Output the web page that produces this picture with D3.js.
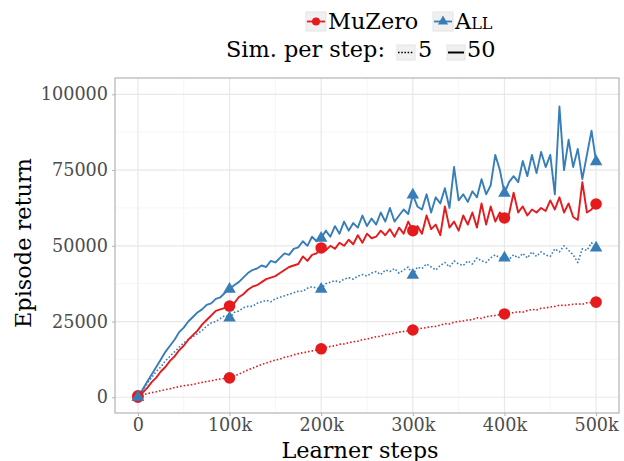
<!DOCTYPE html>
<html>
<head>
<meta charset="utf-8">
<script src="https://cdn.jsdelivr.net/npm/d3@7"></script>
<style>
  body { margin: 0; background: #fff; }
  svg text { font-family: "DejaVu Serif", serif; }
</style>
</head>
<body>
<div id="chart"></div>
<script>
// learner steps, sampled every 5k
const steps = d3.range(0, 500001, 5000);

// episode return per series
const allSim50 = [
  0, 2500, 5000, 7500, 10000, 12500, 15000, 17000, 19000, 21500,
  23000, 25000, 26500, 28000, 29000, 30500, 31000, 32500, 33000, 34500,
  35700, 37000, 38000, 39500, 41000, 42000, 42500, 43500, 43000, 45000,
  44500, 46000, 47500, 47000, 49000, 49500, 51500, 50000, 53000, 51500,
  52500, 55000, 53000, 56500, 54000, 58000, 55000, 57500, 56000, 60000,
  56500, 59000, 57000, 61000, 58000, 62500, 58000, 60000, 62000, 60500,
  66800, 63000, 62000, 67000, 61000, 66000, 64000, 69000, 62500, 76000,
  65000, 67000, 64500, 68000, 66000, 72000, 67000, 70000, 80000, 75000,
  67400, 71000, 73000, 71000, 78000, 73000, 80000, 74000, 81000, 76000,
  80000, 67000, 96000, 75000, 85000, 76000, 82000, 72000, 80000, 88000,
  77800
];
const muzeroSim50 = [
  0, 1500, 3000, 5000, 6500, 8500, 10000, 12000, 13500, 15500,
  17000, 19000, 20500, 22000, 24000, 25500, 27000, 28500, 29000, 29500,
  30100, 31000, 33000, 34000, 35500, 36500, 37000, 38000, 39000, 39500,
  40000, 41000, 42000, 43000, 43500, 44000, 46500, 45000, 47000, 47500,
  49300, 48500, 50000, 49000, 51000, 50000, 52000, 50500, 53500, 51000,
  54000, 52500, 53000, 55000, 53500, 55500, 53000, 56000, 54000, 58000,
  55000, 56500, 54000, 60000, 55500, 57000, 53500, 63000, 56000, 58000,
  55000, 60000, 57000, 61000, 56000, 64000, 57000, 63000, 58000, 61000,
  59200, 60500, 67500, 61000, 63000, 60000, 62000, 61000, 62500, 61500,
  65000, 62000, 66000, 61000, 64000, 59500, 58500, 71000, 61000, 62000,
  63800
];
const allSim5 = [
  0, 2000, 4500, 6500, 8500, 10000, 12000, 13500, 15000, 16500,
  18000, 19000, 20000, 21000, 22000, 23500, 24500, 25000, 26000, 27000,
  26200, 28000, 28500, 29500, 30000, 30000, 31000, 31500, 32000, 31500,
  32500, 33000, 33500, 34000, 34500, 35000, 35000, 36000, 36500, 36000,
  35700, 37500, 38000, 38500, 38000, 39000, 39500, 39000, 40000, 40500,
  40000, 41000, 41500, 40500, 42000, 41500, 42500, 41000, 42000, 43000,
  40300, 43000, 42500, 44000, 43000, 42000, 43500, 44500, 43000, 45000,
  44000, 43500, 45000, 44000, 46000, 45000, 44500, 46000, 47000, 46000,
  46000, 45500, 47000, 46000, 47500, 46000, 48000, 46500, 48000, 47000,
  46500, 49000, 48000, 50000, 48500, 47000, 44500, 49000, 48500, 51000,
  49300
];
const muzeroSim5 = [
  500, 800, 1200, 1500, 1800, 2200, 2500, 2800, 3200, 3500,
  3800, 4000, 4200, 4600, 4900, 5200, 5400, 5800, 6000, 6200,
  6400, 7000, 7600, 8300, 9000, 9600, 10200, 10800, 11300, 11800,
  12300, 12600, 13200, 13500, 14000, 14400, 14700, 15000, 15300, 15600,
  16000, 16400, 16800, 17000, 17500, 17600, 18000, 18300, 18500, 19000,
  19200, 19600, 20000, 20100, 20700, 20800, 21200, 21500, 21700, 22000,
  22200, 22500, 22800, 23000, 23300, 23400, 23800, 24300, 24200, 24800,
  25000, 25200, 25500, 25600, 26200, 26000, 26600, 26800, 27000, 27300,
  27500, 27600, 28000, 28200, 28100, 28600, 29000, 28800, 29400, 29500,
  29800, 30000, 30400, 30300, 30500, 30700, 30800, 30700, 31200, 31300,
  31400
];

const methods = ["MuZero", "All"];
const simCounts = ["5", "50"];
const xTicks = [0, 100000, 200000, 300000, 400000, 500000];
const xTickLabels = ["0", "100k", "200k", "300k", "400k", "500k"];
const yTicks = [0, 25000, 50000, 75000, 100000];
const markerSteps = [0, 100000, 200000, 300000, 400000, 500000];

const colors = {MuZero: "#e41a1c", All: "#377eb8"};

const series = [
  {method: "MuZero", sims: "5", values: muzeroSim5},
  {method: "All", sims: "5", values: allSim5},
  {method: "MuZero", sims: "50", values: muzeroSim50},
  {method: "All", sims: "50", values: allSim50}
];

const width = 624, height = 461;
const margin = {top: 78, right: 5, bottom: 48, left: 115};

const svg = d3.select("#chart").append("svg")
  .attr("width", width)
  .attr("height", height);

const x = d3.scaleLinear().domain([-25000, 525000])
  .range([margin.left, width - margin.right]);
const y = d3.scaleLinear().domain([-5200, 105400])
  .range([height - margin.bottom, margin.top]);

// grid
const grid = svg.append("g");
const xMinor = [50000, 150000, 250000, 350000, 450000];
const yMinor = [12500, 37500, 62500, 87500];
grid.selectAll(".xminor").data(xMinor).enter().append("line")
  .attr("x1", d => x(d)).attr("x2", d => x(d))
  .attr("y1", margin.top).attr("y2", height - margin.bottom)
  .attr("stroke", "#f4f4f4").attr("stroke-width", 0.8);
grid.selectAll(".yminor").data(yMinor).enter().append("line")
  .attr("y1", d => y(d)).attr("y2", d => y(d))
  .attr("x1", margin.left).attr("x2", width - margin.right)
  .attr("stroke", "#f4f4f4").attr("stroke-width", 0.8);
grid.selectAll(".xmajor").data(xTicks).enter().append("line")
  .attr("x1", d => x(d)).attr("x2", d => x(d))
  .attr("y1", margin.top).attr("y2", height - margin.bottom)
  .attr("stroke", "#e8e8e8").attr("stroke-width", 1.2);
grid.selectAll(".ymajor").data(yTicks).enter().append("line")
  .attr("y1", d => y(d)).attr("y2", d => y(d))
  .attr("x1", margin.left).attr("x2", width - margin.right)
  .attr("stroke", "#e8e8e8").attr("stroke-width", 1.2);

// axes
const xAxis = svg.append("g")
  .attr("transform", `translate(0,${height - margin.bottom})`)
  .call(d3.axisBottom(x).tickValues(xTicks)
    .tickFormat((d, i) => xTickLabels[i]).tickSize(3).tickPadding(3));
const yAxis = svg.append("g")
  .attr("transform", `translate(${margin.left},0)`)
  .call(d3.axisLeft(y).tickValues(yTicks).tickFormat(d3.format("d"))
    .tickSize(3).tickPadding(4));
[xAxis, yAxis].forEach(a => {
  a.select(".domain").remove();
  a.selectAll(".tick line").attr("stroke", "#b3b3b3");
  a.selectAll(".tick text").attr("fill", "#4d4d4d")
    .style("font-family", "'DejaVu Serif', serif").style("font-size", "17.6px");
});

// panel border
svg.append("rect")
  .attr("x", margin.left).attr("y", margin.top)
  .attr("width", width - margin.left - margin.right)
  .attr("height", height - margin.top - margin.bottom)
  .attr("fill", "none").attr("stroke", "#b3b3b3").attr("stroke-width", 1.2);

// lines
const line = d3.line().x((d, i) => x(steps[i])).y(d => y(d));
svg.selectAll(".series").data(series).enter().append("path")
  .attr("d", d => line(d.values))
  .attr("fill", "none")
  .attr("stroke", d => colors[d.method])
  .attr("stroke-width", d => d.sims === "5" ? 1.6 : 1.9)
  .attr("stroke-dasharray", d => d.sims === "5" ? "1.6,2" : null)
  .attr("stroke-linejoin", "round");

// markers
const circle = d3.symbol().type(d3.symbolCircle).size(105);
const triangle = d3.symbol().type(d3.symbolTriangle).size(68);
series.forEach(s => {
  const pts = markerSteps.map(st => ({step: st, value: s.values[steps.indexOf(st)]}));
  svg.append("g").selectAll("path").data(pts).enter().append("path")
    .attr("transform", d => `translate(${x(d.step)},${y(d.value)})`)
    .attr("d", s.method === "MuZero" ? circle() : triangle())
    .attr("fill", colors[s.method]);
});

// axis titles
svg.append("text")
  .attr("x", 360).attr("y", 457.5)
  .attr("text-anchor", "middle")
  .style("font-size", "22.4px")
  .text("Learner steps");
svg.append("text")
  .attr("transform", "translate(31,243) rotate(-90)")
  .attr("text-anchor", "middle")
  .style("font-size", "22.4px")
  .text("Episode return");

// legend
const legend = svg.append("g");
const methodKeys = [
  {name: methods[0], kx: 306, tx: 328},
  {name: methods[1], kx: 433, tx: 455}
];
methodKeys.forEach(k => {
  legend.append("rect").attr("x", k.kx).attr("y", 12).attr("width", 20).attr("height", 19)
    .attr("fill", "#f0f0f0").attr("stroke", "#e3e3e3");
  legend.append("line").attr("x1", k.kx + 1).attr("x2", k.kx + 19)
    .attr("y1", 21.5).attr("y2", 21.5)
    .attr("stroke", colors[k.name]).attr("stroke-width", 1.8);
  legend.append("path")
    .attr("transform", `translate(${k.kx + 10},21.5)`)
    .attr("d", k.name === "MuZero" ? d3.symbol().type(d3.symbolCircle).size(50)()
                                   : d3.symbol().type(d3.symbolTriangle).size(45)())
    .attr("fill", colors[k.name]);
  legend.append("text").attr("x", k.tx).attr("y", 28.5)
    .style("font-size", "22.4px")
    .style("font-variant", k.name === "All" ? "small-caps" : null)
    .text(k.name);
});

legend.append("text").attr("x", 226).attr("y", 57)
  .style("font-size", "22.4px").text("Sim. per step:");
const simKeys = [
  {name: simCounts[0], kx: 397, tx: 418},
  {name: simCounts[1], kx: 447, tx: 467}
];
simKeys.forEach(k => {
  legend.append("rect").attr("x", k.kx).attr("y", 45).attr("width", 18).attr("height", 15)
    .attr("fill", "#f0f0f0").attr("stroke", "#e3e3e3");
  legend.append("line").attr("x1", k.kx + 1).attr("x2", k.kx + 17)
    .attr("y1", 52.5).attr("y2", 52.5)
    .attr("stroke", "#000").attr("stroke-width", k.name === "5" ? 1.4 : 2)
    .attr("stroke-dasharray", k.name === "5" ? "1.6,1.6" : null);
  legend.append("text").attr("x", k.tx).attr("y", 57)
    .style("font-size", "22.4px").text(k.name);
});
</script>
</body>
</html>
